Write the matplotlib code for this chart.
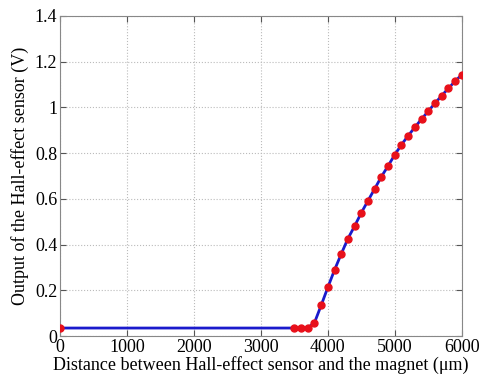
import numpy as np
import matplotlib.pyplot as plt

plt.rcParams['font.family'] = ['Liberation Serif', 'DejaVu Serif']

distance = [0, 3500, 3600, 3700, 3800, 3900, 4000, 4100, 4200, 4300, 4400,
            4500, 4600, 4700, 4800, 4900, 5000, 5100, 5200, 5300, 5400,
            5500, 5600, 5700, 5800, 5900, 6000]
voltage = [0.035, 0.035, 0.035, 0.036, 0.058, 0.134, 0.213, 0.289, 0.359, 0.426,
           0.481, 0.539, 0.592, 0.644, 0.697, 0.744, 0.793, 0.837, 0.876,
           0.913, 0.949, 0.983, 1.018, 1.051, 1.083, 1.114, 1.143]

xticks = [0, 1000, 2000, 3000, 4000, 5000, 6000]
yticks = [0, 0.2, 0.4, 0.6, 0.8, 1.0, 1.2, 1.4]
yticklabels = ['0', '0.2', '0.4', '0.6', '0.8', '1', '1.2', '1.4']

fig = plt.figure(figsize=(4.82, 3.78), dpi=100)
ax = fig.add_axes([0.1245, 0.111, 0.8335, 0.847])

ax.plot(distance, voltage, color='#1a1acc', lw=2, marker='o',
        markersize=5, markerfacecolor='#e8101a', markeredgecolor='#e8101a',
        zorder=3)

ax.set_xlim(0, 6000)
ax.set_ylim(0, 1.4)
ax.set_xticks(xticks)
ax.set_yticks(yticks)
ax.set_yticklabels(yticklabels)
ax.tick_params(direction='in', top=True, right=True, labelsize=13,
               color='#555555', length=4, pad=2)
ax.grid(True, linestyle=':', color='#bbbbbb', lw=0.8)
for s in ax.spines.values():
    s.set_color('#888888')

ax.set_xlabel('Distance between Hall-effect sensor and the magnet (\u03bcm)',
              fontsize=13, labelpad=0)
ax.set_ylabel('Output of the Hall-effect sensor (V)', fontsize=13, labelpad=4)

fig.savefig('out.png', dpi=100)
